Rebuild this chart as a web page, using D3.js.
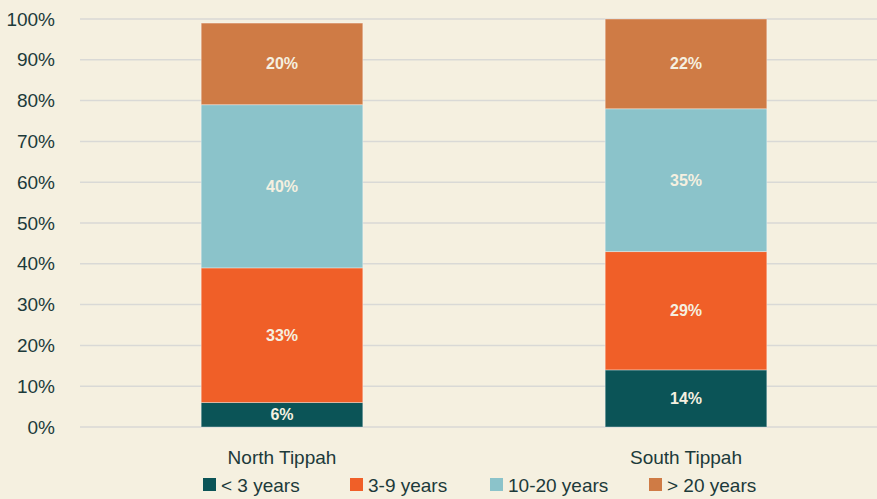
<!DOCTYPE html>
<html>
<head>
<meta charset="utf-8">
<script src="https://cdn.jsdelivr.net/npm/d3@7"></script>
<style>
  body { margin: 0; background: #f5f0e0; }
  svg { display: block; }
</style>
</head>
<body>
<svg id="chart" width="877" height="499"></svg>
<script>
var regions = ['North Tippah', 'South Tippah'];
var seriesNames = ['< 3 years', '3-9 years', '10-20 years', '> 20 years'];
var lessThan3 = [6, 14];
var from3to9 = [33, 29];
var from10to20 = [40, 35];
var over20 = [20, 22];
var colors = ['#0b5457', '#f05f28', '#8bc3ca', '#cf7b45'];
var yTicks = [0, 10, 20, 30, 40, 50, 60, 70, 80, 90, 100];

var font = "'Liberation Sans Narrow', 'Arial Narrow', sans-serif";
var textColor = '#1c3a3a';

var svg = d3.select('#chart');
var margin = {top: 19, right: -11, bottom: 72, left: 80},
    width = 877 - margin.left - margin.right,
    height = 499 - margin.top - margin.bottom;

var g = svg.append('g')
  .attr('transform', 'translate(' + margin.left + ',' + margin.top + ')');

var x = d3.scaleBand()
  .domain(regions)
  .range([0, width])
  .paddingInner(0.6)
  .paddingOuter(0.3);

var y = d3.scaleLinear()
  .domain([0, 100])
  .range([height, 0]);

// gridlines
g.selectAll('.grid')
  .data(yTicks)
  .enter()
  .append('line')
  .attr('x1', 0)
  .attr('x2', width)
  .attr('y1', function(d) { return y(d); })
  .attr('y2', function(d) { return y(d); })
  .attr('stroke', '#d9d9d6')
  .attr('stroke-width', 1.5);

// y axis labels
var yAxis = d3.axisLeft(y).tickValues(yTicks).tickSize(0).tickPadding(25)
  .tickFormat(function(d) { return d + '%'; });
g.append('g').call(yAxis)
  .call(function(s) { s.select('.domain').remove(); })
  .selectAll('text')
  .attr('font-family', font)
  .attr('font-size', 19)
  .attr('fill', textColor);

var table = regions.map(function(r, i) {
  return {region: r, a: lessThan3[i], b: from3to9[i], c: from10to20[i], d: over20[i]};
});
var stack = d3.stack().keys(['a', 'b', 'c', 'd']);
var series = stack(table);

var layer = g.selectAll('.layer')
  .data(series)
  .enter()
  .append('g')
  .attr('fill', function(d, i) { return colors[i]; });

layer.selectAll('rect')
  .data(function(d) { return d; })
  .enter()
  .append('rect')
  .attr('x', function(d) { return x(d.data.region); })
  .attr('y', function(d) { return y(d[1]); })
  .attr('width', x.bandwidth())
  .attr('height', function(d) { return y(d[0]) - y(d[1]); })
  .attr('stroke', 'rgba(255,255,255,0.35)')
  .attr('stroke-width', 1);

layer.selectAll('text')
  .data(function(d) { return d; })
  .enter()
  .append('text')
  .attr('x', function(d) { return x(d.data.region) + x.bandwidth() / 2; })
  .attr('y', function(d) { return (y(d[0]) + y(d[1])) / 2; })
  .attr('dy', '0.35em')
  .attr('text-anchor', 'middle')
  .attr('font-family', font)
  .attr('font-weight', 'bold')
  .attr('font-size', 16)
  .attr('fill', '#f5f0e0')
  .text(function(d) { return (d[1] - d[0]) + '%'; });

// x axis labels
g.selectAll('.xlabel')
  .data(regions)
  .enter()
  .append('text')
  .attr('x', function(d) { return x(d) + x.bandwidth() / 2; })
  .attr('y', height + 37)
  .attr('text-anchor', 'middle')
  .attr('font-family', font)
  .attr('font-size', 19)
  .attr('fill', textColor)
  .text(function(d) { return d; });

// legend
var legendX = [203, 350, 490, 649];
var legend = svg.selectAll('.legend')
  .data(seriesNames)
  .enter()
  .append('g')
  .attr('transform', function(d, i) { return 'translate(' + legendX[i] + ',478)'; });

legend.append('rect')
  .attr('width', 13)
  .attr('height', 13)
  .attr('fill', function(d, i) { return colors[i]; });

legend.append('text')
  .attr('x', 18)
  .attr('y', 7)
  .attr('dy', '0.35em')
  .attr('font-family', font)
  .attr('font-size', 19)
  .attr('fill', textColor)
  .text(function(d) { return d; });
</script>
</body>
</html>
